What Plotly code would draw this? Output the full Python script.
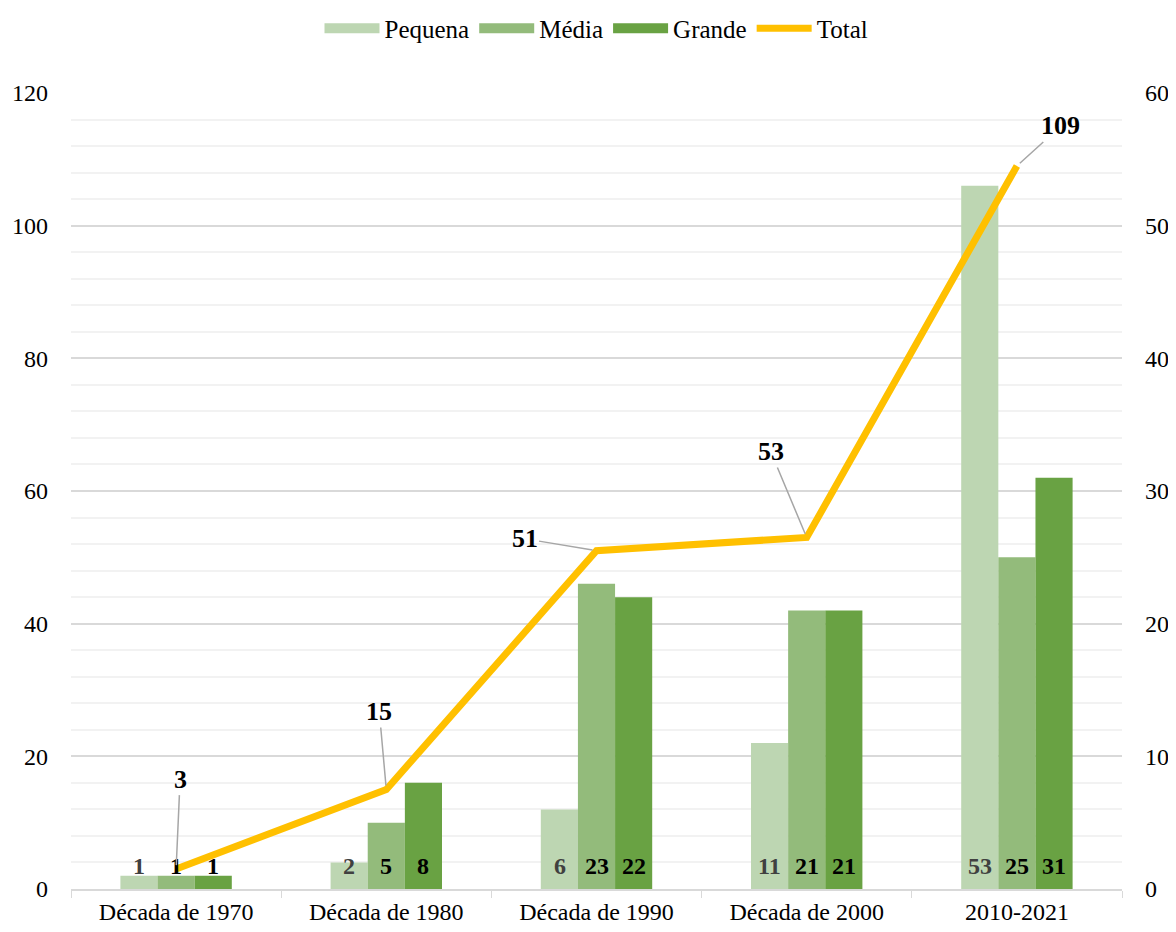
import plotly.graph_objects as go

decadas = ["Década de 1970", "Década de 1980", "Década de 1990", "Década de 2000", "2010-2021"]
pequena = [1, 2, 6, 11, 53]
media = [1, 5, 23, 21, 25]
grande = [1, 8, 22, 21, 31]
total = [3, 15, 51, 53, 109]

cores = {"Pequena": "#BDD6B2", "Média": "#93BB7B", "Grande": "#69A243"}
fonte = "Times New Roman, Liberation Serif, serif"
series = [("Pequena", pequena), ("Média", media), ("Grande", grande)]

fig = go.Figure()
for nome, vals in series:
    fig.add_trace(go.Bar(x=decadas, y=vals, name=nome, marker_color=cores[nome],
                         marker_line_width=0, yaxis="y", showlegend=False))

# entradas de legenda com retângulos largos (estilo Excel)
for nome, _ in series:
    fig.add_trace(go.Scatter(x=[None], y=[None], name=nome, mode="lines",
                             line=dict(color=cores[nome], width=18), yaxis="y"))

fig.add_trace(go.Scatter(x=decadas, y=total, name="Total", mode="lines",
                         line=dict(color="#FFC000", width=7), yaxis="y2"))

# rótulos na base das barras
desloc = [-37, 0, 37]
for k, (nome, vals) in enumerate(series):
    cor_txt = "#404040" if nome == "Pequena" else "#000000"
    for x, v in zip(decadas, vals):
        fig.add_annotation(x=x, y=0, xref="x", yref="y", text=f"<b>{v}</b>",
                           showarrow=False, xshift=desloc[k], yshift=8, yanchor="bottom",
                           font=dict(family=fonte, size=24, color=cor_txt))

# rótulos do total com linhas de chamada
offsets = [(4, -90), (-7, -78), (-72, -12), (-36, -86), (44, -40)]
for x, v, (ax, ay) in zip(decadas, total, offsets):
    fig.add_annotation(x=x, y=v, xref="x", yref="y2", text=f"<b>{v}</b>",
                       showarrow=True, arrowhead=0, arrowwidth=1.5, arrowcolor="#A6A6A6",
                       ax=ax, ay=ay, standoff=4,
                       font=dict(family=fonte, size=26, color="#000000"))

fig.update_layout(
    width=1168, height=924,
    paper_bgcolor="white", plot_bgcolor="white",
    margin=dict(l=63, r=54, t=85, b=43, autoexpand=False),
    font=dict(family=fonte, size=24, color="#000000"),
    barmode="group", bargap=0.47, bargroupgap=0,
    legend=dict(orientation="h", x=0.5, xanchor="center", y=1.081, yref="paper",
                yanchor="middle", font=dict(size=25), traceorder="normal",
                itemwidth=55),
    xaxis=dict(type="category", showline=True, linecolor="#D9D9D9", linewidth=1.5,
               ticks="outside", tickson="boundaries", ticklen=7, tickcolor="#D9D9D9",
               showgrid=False, tickfont=dict(size=24), automargin=False),
    yaxis=dict(side="right", range=[0, 60], dtick=10, showgrid=True,
               gridcolor="#D9D9D9", gridwidth=1.5, zeroline=False,
               minor=dict(dtick=2, showgrid=True, gridcolor="#F2F2F2", gridwidth=1.5),
               tickfont=dict(size=24), ticks="", ticklabelstandoff=22, automargin=False),
    yaxis2=dict(side="left", overlaying="y", range=[0, 120], dtick=20, showgrid=False,
                zeroline=False, tickfont=dict(size=24), ticks="", ticklabelstandoff=22,
                automargin=False),
)

fig.write_html("out.html")
